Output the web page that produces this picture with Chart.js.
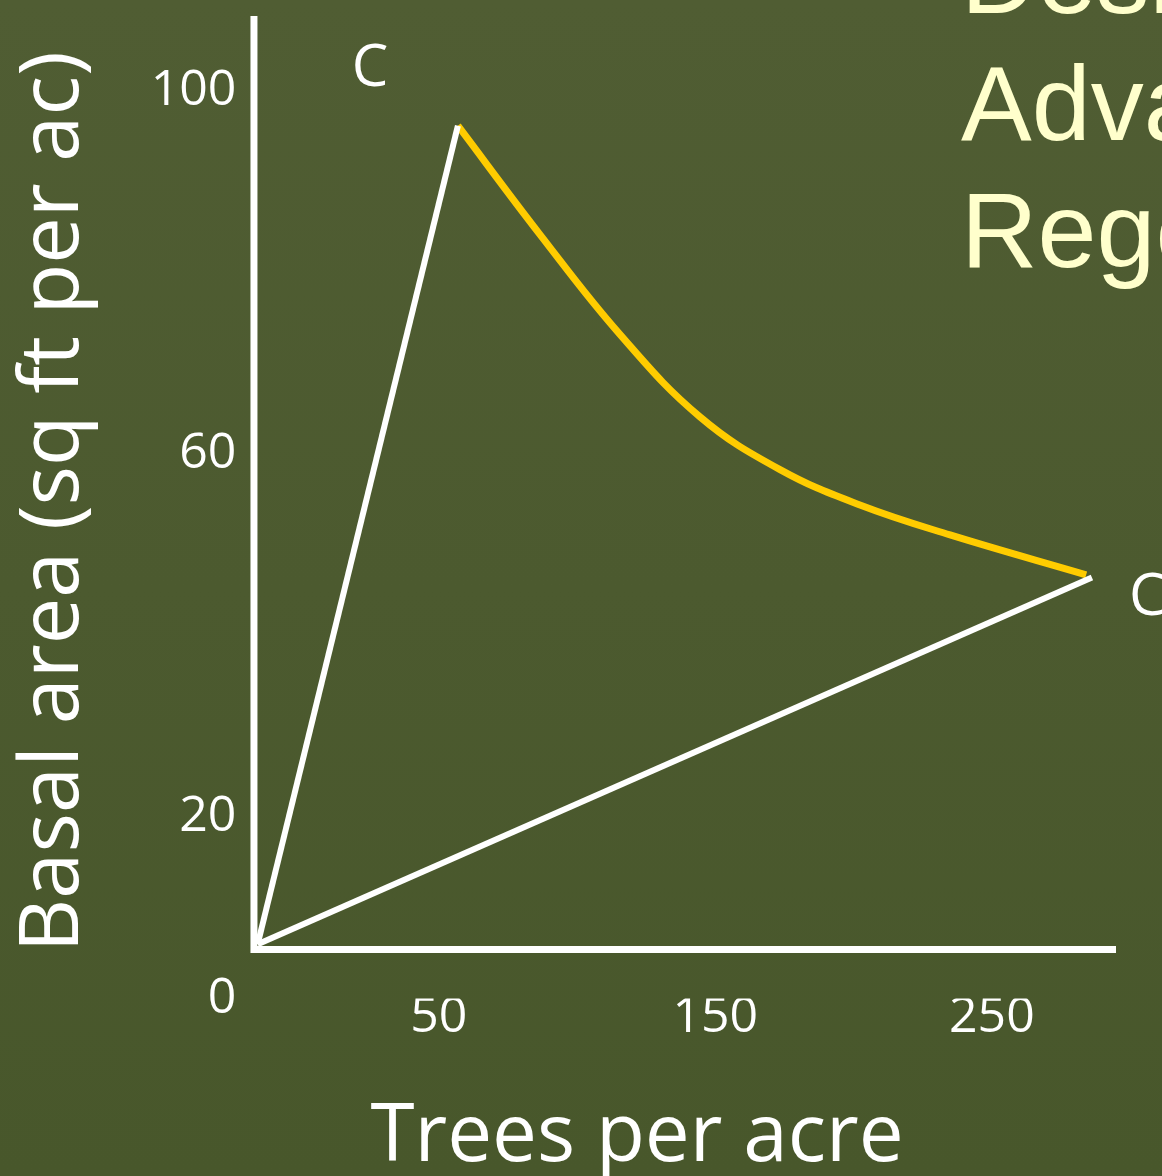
<!DOCTYPE html>
<html>
<head>
<meta charset="utf-8">
<script src="https://cdn.jsdelivr.net/npm/chart.js@4.4.1/dist/chart.umd.min.js"></script>
<style>
html, body { margin: 0; padding: 0; background: #4d5b31; }
#wrap { width: 1162px; height: 1176px; position: relative; }
</style>
</head>
<body>
<div id="wrap"><canvas id="c" width="1162" height="1176"></canvas></div>
<script>
// ---- data ----
const yTickValues = [0, 20, 60, 100];
const xTickValues = [50, 150, 250];
const xAxisTitle = 'Trees per acre';
const yAxisTitle = 'Basal area (sq ft per ac)';
const titleLines = ['Desired', 'Advance', 'Regeneration'];
const cornerLabels = ['C', 'C'];

// drawn axis lines (values in chart units)
const axisLineX = [-16.85, -16.85, 294.9];
const axisLineY = [108.3, 5.41, 5.41];

// white straight lines
const originPoint = { x: -15.5, y: 6.0 };
const peakPoint = { x: 56.9, y: 96.2 };
const endPoint = { x: 286.2, y: 46.4 };

// yellow curve
const curveX = [56.9, 86.6, 115.5, 144.5, 173.4, 202.3, 234.9, 284.1];
const curveY = [96.2, 84.2, 73.2, 64.1, 58.3, 54.4, 51.1, 46.7];

const toPts = (xs, ys) => xs.map((x, i) => ({ x: x, y: ys[i] }));

const bgPlugin = {
  id: 'bg',
  beforeDraw(chart) {
    const { ctx, width, height } = chart;
    const g = ctx.createLinearGradient(0, 0, 0, height);
    g.addColorStop(0, '#505D33');
    g.addColorStop(1, '#48572B');
    ctx.save();
    ctx.fillStyle = g;
    ctx.fillRect(0, 0, width, height);
    ctx.restore();
  }
};

const textPlugin = {
  id: 'texts',
  afterDraw(chart) {
    const ctx = chart.ctx;
    ctx.save();
    ctx.fillStyle = '#FFFFCC';
    ctx.font = '106px "Liberation Sans", Arial, sans-serif';
    ctx.textAlign = 'left';
    ctx.textBaseline = 'alphabetic';
    titleLines.forEach((t, i) => ctx.fillText(t, 961, 13 + i * 127));

    ctx.fillStyle = '#FFFFFF';
    ctx.font = '80px "Open Sans"';
    ctx.textAlign = 'center';
    ctx.fillText(xAxisTitle, 637, 1161);

    ctx.font = '58px "Open Sans"';
    ctx.textBaseline = 'middle';
    ctx.fillText(cornerLabels[0], 370, 69);
    ctx.textAlign = 'left';
    ctx.fillText(cornerLabels[1], 1129, 598);
    ctx.restore();
  }
};

new Chart(document.getElementById('c'), {
  type: 'scatter',
  data: {
    datasets: [
      { label: 'axes', data: toPts(axisLineX, axisLineY), showLine: true, borderColor: '#FFFFFF',
        borderWidth: 7, pointRadius: 0, borderJoinStyle: 'miter', borderCapStyle: 'butt' },
      { label: 'line1', data: [originPoint, peakPoint], showLine: true, borderColor: '#FFFFFF',
        borderWidth: 6, pointRadius: 0 },
      { label: 'line2', data: [originPoint, endPoint], showLine: true, borderColor: '#FFFFFF',
        borderWidth: 6, pointRadius: 0 },
      { label: 'curve', data: toPts(curveX, curveY), showLine: true, borderColor: '#FFCC00',
        borderWidth: 7, pointRadius: 0, tension: 0.4 }
    ]
  },
  options: {
    responsive: false,
    animation: false,
    devicePixelRatio: 1,
    layout: { padding: { left: 0, top: 5, right: 31.9, bottom: 0 } },
    plugins: { legend: { display: false }, tooltip: { enabled: false } },
    scales: {
      x: {
        type: 'linear', min: -18.5, max: 300,
        grid: { display: false, drawTicks: false },
        border: { display: false },
        afterBuildTicks: s => { s.ticks = xTickValues.map(v => ({ value: v })); },
        ticks: { color: '#FFFFFF', font: { family: '"Open Sans"', size: 50, lineHeight: 1 },
                 padding: -5.6, maxRotation: 0, autoSkip: false },
        afterFit: s => { s.height = 177.4; s.paddingLeft = 0; s.paddingRight = 0; }
      },
      y: {
        type: 'linear', min: 0, max: 109.5,
        grid: { display: false, drawTicks: false },
        border: { display: false },
        afterBuildTicks: s => { s.ticks = yTickValues.map(v => ({ value: v })); },
        ticks: { color: '#FFFFFF', font: { family: '"Open Sans"', size: 50 }, padding: 13, autoSkip: false },
        title: { display: true, text: yAxisTitle, color: '#FFFFFF',
                 font: { family: '"Open Sans"', size: 83 }, padding: { top: 5, bottom: 0 } },
        afterFit: s => { s.width = 249.4; s.paddingTop = 0; s.paddingBottom = 0; }
      }
    }
  },
  plugins: [bgPlugin, textPlugin]
});
</script>
</body>
</html>
